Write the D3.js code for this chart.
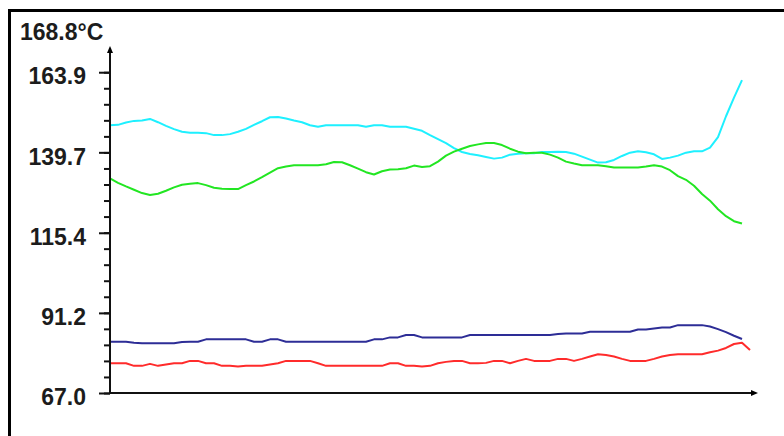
<!DOCTYPE html>
<html>
<head>
<meta charset="utf-8">
<script src="https://cdn.jsdelivr.net/npm/d3@7"></script>
<style>
  html, body { margin: 0; padding: 0; background: #fff; }
  svg { display: block; }
  text { font-family: "Liberation Sans", Arial, sans-serif; font-weight: bold; font-size: 23px; fill: #1c1c1c; }
</style>
</head>
<body>
<svg id="chart" width="784" height="436"></svg>
<script>
// Temperature readings, one sample per time step
const unitLabel = "°C";
const yMin = 67.0;
const yMax = 168.8;
const yTickValues = [67.0, 91.2, 115.4, 139.7, 163.9];
const yTickLabels = ["67.0", "91.2", "115.4", "139.7", "163.9"];
const minorPerMajor = 5;

const cyanValues = [
  147.9,148.0,148.7,149.2,149.3,149.8,148.8,147.7,146.7,145.9,
  145.6,145.6,145.5,144.9,144.9,145.2,145.9,146.8,148.0,149.1,
  150.3,150.4,149.9,149.3,148.8,147.9,147.4,147.9,147.9,147.9,
  147.9,147.9,147.4,147.9,147.9,147.4,147.4,147.4,146.8,146.2,
  144.9,143.7,142.5,141.0,139.8,139.2,138.8,138.3,137.8,138.1,
  139.0,139.3,139.4,139.4,139.8,139.8,139.9,139.8,139.3,138.4,
  137.5,136.6,136.7,137.4,138.6,139.6,140.0,139.7,139.1,137.7,
  138.1,138.7,139.6,140.0,140.0,141.1,144.3,150.6,156.2,161.5
];
const greenValues = [
  131.8,130.5,129.4,128.4,127.4,126.8,127.2,128.1,129.1,129.9,
  130.2,130.4,129.8,129.0,128.7,128.6,128.6,129.8,130.9,132.2,
  133.6,134.9,135.4,135.8,135.8,135.8,135.8,136.1,136.8,136.7,
  135.8,134.8,133.7,133.0,134.0,134.5,134.6,134.9,135.7,135.3,
  135.5,136.9,138.7,139.9,140.8,141.6,142.1,142.5,142.5,141.9,
  140.8,139.9,139.4,139.6,139.6,139.0,138.1,136.9,136.3,135.8,
  135.8,135.8,135.5,135.1,135.1,135.1,135.1,135.4,135.8,135.4,
  134.3,132.5,131.4,129.6,127.1,125.1,122.5,120.4,118.9,118.2
];
const blueValues = [
  82.5,82.5,82.5,82.2,82.0,82.0,82.0,82.0,82.0,82.4,
  82.5,82.5,83.2,83.2,83.2,83.2,83.2,83.2,82.5,82.5,
  83.2,83.2,82.5,82.5,82.5,82.5,82.5,82.5,82.5,82.5,
  82.5,82.5,82.5,83.2,83.2,83.8,83.8,84.5,84.5,83.8,
  83.8,83.8,83.8,83.8,83.8,84.5,84.5,84.5,84.5,84.5,
  84.5,84.5,84.5,84.5,84.5,84.5,84.8,85.0,85.0,85.0,
  85.5,85.5,85.5,85.5,85.5,85.5,86.2,86.2,86.5,86.8,
  86.8,87.5,87.5,87.5,87.5,87.1,86.3,85.4,84.3,83.3
];
const redValues = [
  76.0,76.0,76.0,75.2,75.2,75.8,75.2,75.6,76.0,76.0,
  76.7,76.7,76.0,76.0,75.2,75.2,75.0,75.2,75.2,75.2,
  75.6,76.0,76.7,76.7,76.7,76.7,76.0,75.2,75.2,75.2,
  75.2,75.2,75.2,75.2,75.2,76.0,76.0,75.2,75.2,75.0,
  75.2,76.0,76.4,76.7,76.7,76.0,76.0,76.1,76.7,76.7,
  76.0,76.7,77.3,76.7,76.7,76.7,77.3,77.3,76.7,77.3,
  78.0,78.7,78.5,78.0,77.3,76.7,76.7,76.7,77.3,78.0,
  78.5,78.7,78.7,78.7,78.7,79.3,79.8,80.6,81.8,82.2,
  80.0
];

const seriesList = [
  { values: cyanValues,  color: "#1ef0ff" },
  { values: greenValues, color: "#22e622" },
  { values: blueValues,  color: "#2d2d96" },
  { values: redValues,   color: "#ff2b2b" }
];

const W = 784, H = 436;
const plot = { left: 110, right: 742, top: 56, bottom: 393 };
const svg = d3.select("#chart");

const x = d3.scaleLinear().domain([0, cyanValues.length - 1]).range([plot.left, plot.right]);
const y = d3.scaleLinear().domain([yMin, yMax]).range([plot.bottom, plot.top]);

svg.append("rect").attr("width", W).attr("height", H).attr("fill", "#fff");

// Frame along the top and left edges
svg.append("path")
  .attr("d", `M9.5,${H}V10.5H${W}`)
  .attr("fill", "none").attr("stroke", "#000").attr("stroke-width", 3);

// Unit label above the value axis
svg.append("text").attr("x", 20).attr("y", 39.5).text(yMax.toFixed(1) + unitLabel);

// Minor ticks
const topMajor = yTickValues[yTickValues.length - 1];
const minorCount = (yTickValues.length - 1) * minorPerMajor;
const minorTicks = d3.range(minorCount + 1).map(i => yMin + i * (topMajor - yMin) / minorCount);

const minorAxis = svg.append("g")
  .attr("transform", `translate(${plot.left},0)`)
  .call(d3.axisLeft(y).tickValues(minorTicks).tickSize(6).tickFormat(""));
minorAxis.select(".domain").remove();
minorAxis.selectAll("line").attr("stroke", "#111").attr("stroke-width", 2);

// Major ticks with labels
const majorAxis = svg.append("g")
  .attr("transform", `translate(${plot.left},0)`)
  .call(d3.axisLeft(y).tickValues(yTickValues).tickSize(11).tickPadding(13)
    .tickFormat((d, i) => yTickLabels[i]));
majorAxis.select(".domain").remove();
majorAxis.attr("font-size", null).attr("font-family", null);
majorAxis.selectAll("line").attr("stroke", "#111").attr("stroke-width", 2);
majorAxis.selectAll("text").attr("dy", "0.51em").attr("fill", "#1c1c1c");

// Series lines
const line = d3.line()
  .x((d, i) => x(i))
  .y(d => y(d));

svg.append("g").selectAll("path")
  .data(seriesList)
  .join("path")
  .attr("d", s => line(s.values))
  .attr("fill", "none")
  .attr("stroke", s => s.color)
  .attr("stroke-width", 2)
  .attr("stroke-linejoin", "round");

// Axis lines with arrow heads
const axisEndX = 752, axisEndY = 52;
svg.append("path")
  .attr("d", `M${plot.left},${plot.bottom}V${axisEndY}M${plot.left},${plot.bottom}H${axisEndX}`)
  .attr("fill", "none").attr("stroke", "#111").attr("stroke-width", 2);
svg.append("path")
  .attr("d", `M${plot.left},${axisEndY - 6}L${plot.left + 3},${axisEndY + 1}L${plot.left - 3},${axisEndY + 1}Z`)
  .attr("fill", "#000");
svg.append("path")
  .attr("d", `M${axisEndX + 6},${plot.bottom}L${axisEndX - 1},${plot.bottom - 3}L${axisEndX - 1},${plot.bottom + 3}Z`)
  .attr("fill", "#000");
</script>
</body>
</html>
